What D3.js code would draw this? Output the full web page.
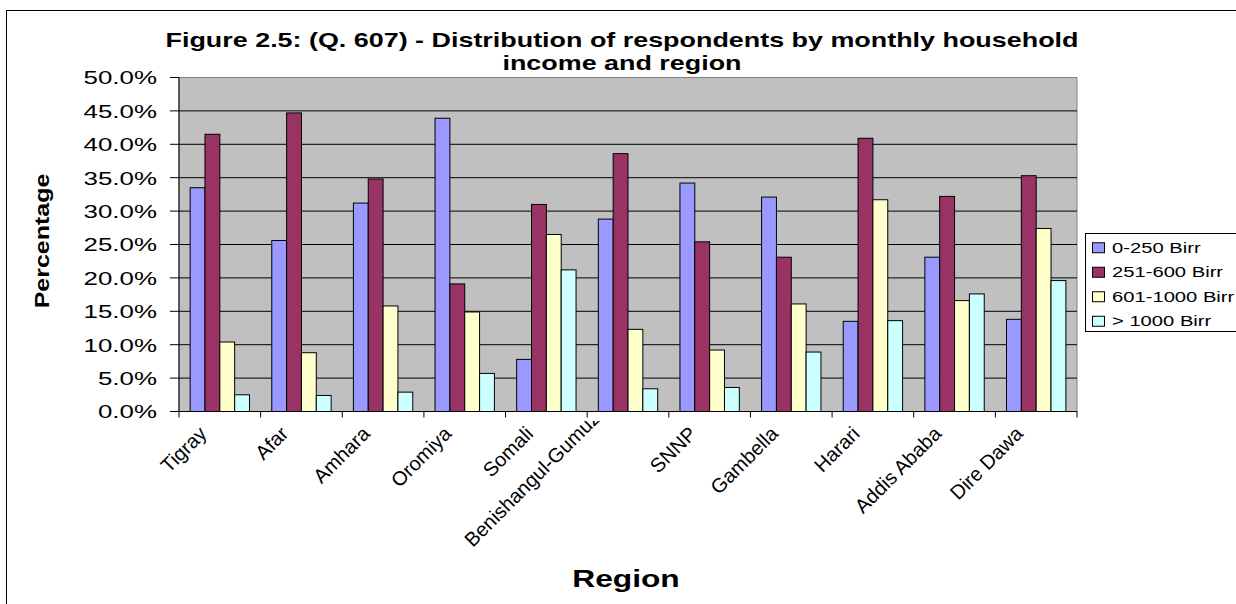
<!DOCTYPE html>
<html>
<head>
<meta charset="utf-8">
<script src="https://cdn.jsdelivr.net/npm/d3@7"></script>
<style>
  html, body { margin: 0; padding: 0; background: #ffffff; }
  svg { display: block; }
  text { font-family: Arial, "Liberation Sans", sans-serif; fill: #000; }
</style>
</head>
<body>
<svg id="chart" width="1236" height="604"></svg>
<script>
// Regions (categories)
const regions = ["Tigray", "Afar", "Amhara", "Oromiya", "Somali", "Benishangul-Gumuz",
                 "SNNP", "Gambella", "Harari", "Addis Ababa", "Dire Dawa"];

// Monthly household income groups (series)
const seriesNames = ["0-250 Birr", "251-600 Birr", "601-1000 Birr", "> 1000 Birr"];

// Percentage of respondents in each income group, by region
const income0to250    = [33.5, 25.6, 31.2, 43.9, 7.8, 28.8, 34.2, 32.1, 13.5, 23.1, 13.8];
const income251to600  = [41.5, 44.7, 34.8, 19.1, 31.0, 38.6, 25.4, 23.1, 40.9, 32.2, 35.3];
const income601to1000 = [10.4, 8.8, 15.8, 14.9, 26.5, 12.3, 9.2, 16.1, 31.7, 16.6, 27.4];
const incomeOver1000  = [2.5, 2.4, 2.9, 5.7, 21.2, 3.4, 3.6, 8.9, 13.6, 17.6, 19.6];

// Y-axis tick values (percent)
const yTicks = [0, 5, 10, 15, 20, 25, 30, 35, 40, 45, 50];

const titleLines = ["Figure 2.5: (Q. 607) - Distribution of respondents by monthly household",
                    "income and region"];
const yTitle = "Percentage";
const xTitle = "Region";

const seriesValues = [income0to250, income251to600, income601to1000, incomeOver1000];
const seriesColors = ["#9999ff", "#993366", "#ffffcc", "#ccffff"];

const rows = regions.map((r, i) => ({
  region: r,
  values: seriesNames.map((s, j) => ({ key: s, value: seriesValues[j][i] }))
}));

const svg = d3.select("#chart");
const W = 1236, H = 604;
const plot = { left: 179, right: 1077, top: 77.5, bottom: 411.5 };
const SX = 1.38; // horizontal text stretch

svg.append("rect").attr("width", W).attr("height", H).attr("fill", "#fff");
// chart frame
svg.append("rect").attr("x", 6.5).attr("y", 10.5).attr("width", 1260).attr("height", 620)
  .attr("fill", "none").attr("stroke", "#000").attr("stroke-width", 1);

const x0 = d3.scaleBand().domain(regions).range([plot.left, plot.right]).padding(0);
const x1 = d3.scaleBand().domain(seriesNames).range([0, x0.bandwidth()])
  .paddingInner(0).paddingOuter(0.75);
const y = d3.scaleLinear().domain([0, 50]).range([plot.bottom, plot.top]);
const color = d3.scaleOrdinal().domain(seriesNames).range(seriesColors);

// plot area
svg.append("rect")
  .attr("x", plot.left).attr("y", plot.top)
  .attr("width", plot.right - plot.left).attr("height", plot.bottom - plot.top)
  .attr("fill", "#c0c0c0").attr("stroke", "#808080").attr("stroke-width", 1);

// gridlines
svg.append("g").selectAll("line").data(yTicks.filter(t => t > 0 && t < 50)).join("line")
  .attr("x1", plot.left).attr("x2", plot.right)
  .attr("y1", d => y(d)).attr("y2", d => y(d))
  .attr("stroke", "#000").attr("stroke-width", 1);

// bars
const groups = svg.append("g").selectAll("g").data(rows).join("g")
  .attr("transform", d => `translate(${x0(d.region)},0)`);
groups.selectAll("rect").data(d => d.values).join("rect")
  .attr("x", d => x1(d.key))
  .attr("y", d => y(d.value))
  .attr("width", x1.bandwidth())
  .attr("height", d => y(0) - y(d.value))
  .attr("fill", d => color(d.key))
  .attr("stroke", "#000").attr("stroke-width", 1);

// y axis
const yAxis = svg.append("g");
yAxis.append("line").attr("x1", plot.left).attr("x2", plot.left)
  .attr("y1", plot.top).attr("y2", plot.bottom).attr("stroke", "#000");
yAxis.selectAll("line.tick").data(yTicks).join("line").attr("class", "tick")
  .attr("x1", plot.left - 9).attr("x2", plot.left)
  .attr("y1", d => y(d)).attr("y2", d => y(d)).attr("stroke", "#000");
yAxis.selectAll("text").data(yTicks).join("text")
  .attr("text-anchor", "end")
  .attr("font-size", 18.5)
  .attr("transform", d => `translate(157,${y(d) + 6.8}) scale(1.4,1)`)
  .text(d => d3.format(".1f")(d) + "%");

// x axis
const xAxis = svg.append("g");
xAxis.append("line").attr("x1", plot.left).attr("x2", plot.right)
  .attr("y1", plot.bottom).attr("y2", plot.bottom).attr("stroke", "#000");
const boundaries = regions.map(r => x0(r)).concat([plot.right]);
xAxis.selectAll("line.tick").data(boundaries).join("line").attr("class", "tick")
  .attr("x1", d => d).attr("x2", d => d)
  .attr("y1", plot.bottom).attr("y2", plot.bottom + 6).attr("stroke", "#000");

// rotated category labels; a label too long for the label band is pushed up
// perpendicular to its baseline and cut off at the top of the band
svg.append("clipPath").attr("id", "xlabClip")
  .append("rect").attr("x", 0).attr("y", 421).attr("width", W).attr("height", H);
const labelBottom = 548;
xAxis.append("g").attr("clip-path", "url(#xlabClip)")
  .selectAll("text").data(regions).join("text")
  .attr("text-anchor", "end")
  .attr("font-size", 20)
  .text(d => d)
  .each(function (d) {
    const w = this.getComputedTextLength();
    let ex = x0(d) + x0.bandwidth() / 2 - 12, ey = 435;
    const over = ey + w / Math.SQRT2 - labelBottom;
    if (over > 0) { ex -= over; ey -= over; }
    d3.select(this).attr("transform", `translate(${ex},${ey}) rotate(-45)`);
  });

// title
svg.append("g").selectAll("text").data(titleLines).join("text")
  .attr("text-anchor", "middle")
  .attr("font-size", 19.5).attr("font-weight", "bold")
  .attr("transform", (d, i) => `translate(622,${47 + i * 23}) scale(${SX},1)`)
  .text(d => d);

// axis titles
svg.append("text")
  .attr("text-anchor", "middle").attr("font-size", 21).attr("font-weight", "bold")
  .attr("transform", "translate(49,241) rotate(-90) scale(1.19,1)")
  .text(yTitle);
svg.append("text")
  .attr("text-anchor", "middle").attr("font-size", 23).attr("font-weight", "bold")
  .attr("transform", `translate(626,587) scale(${SX},1)`)
  .text(xTitle);

// legend
const legend = svg.append("g");
legend.append("rect").attr("x", 1085.5).attr("y", 233.5).attr("width", 160).attr("height", 98)
  .attr("fill", "#fff").attr("stroke", "#000");
const legendRow = d3.scaleBand().domain(seriesNames).range([235, 333]);
const items = legend.selectAll("g.item").data(seriesNames).join("g").attr("class", "item")
  .attr("transform", d => `translate(0,${legendRow(d) + legendRow.bandwidth() / 2})`);
items.append("rect").attr("x", 1092.5).attr("y", -4.5).attr("width", 12).attr("height", 10)
  .attr("fill", d => color(d)).attr("stroke", "#000");
items.append("text").attr("font-size", 15.3)
  .attr("transform", `translate(1112,5.5) scale(1.32,1)`)
  .text(d => d);
</script>
</body>
</html>
